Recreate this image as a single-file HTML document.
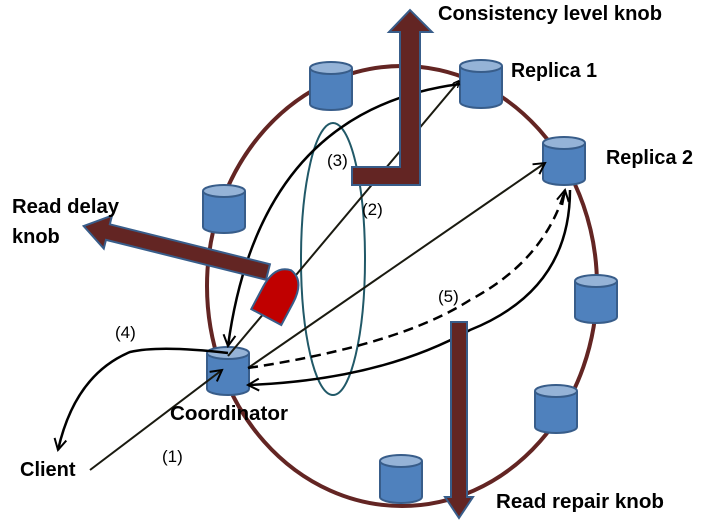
<!DOCTYPE html>
<html><head><meta charset="utf-8"><style>
html,body{margin:0;padding:0;background:#fff;}
svg{display:block;font-family:"Liberation Sans",sans-serif;}
.b{font-weight:bold;font-size:20px;fill:#000;}
.n{font-size:17px;fill:#000;}
</style></head><body>
<svg width="723" height="531" viewBox="0 0 723 531" xmlns="http://www.w3.org/2000/svg">
<defs>
<marker id="a" viewBox="0 0 10 10" refX="9" refY="5" markerWidth="7" markerHeight="7" orient="auto" markerUnits="userSpaceOnUse">
<path d="M0,0 L10,5 L0,10" fill="none" stroke="#000" stroke-width="2"/></marker>
<marker id="m" viewBox="0 0 14 14" refX="12" refY="7" markerWidth="14" markerHeight="14" orient="auto" markerUnits="userSpaceOnUse">
<path d="M1,1 L12,7 L1,13" fill="none" stroke="#000" stroke-width="2"/></marker>
<g id="cyl">
<path d="M0,6 L0,42 A21,6 0 0 0 42,42 L42,6" fill="#4f81bd" stroke="#385d8a" stroke-width="2"/>
<ellipse cx="21" cy="6" rx="21" ry="6" fill="#95b3d7" stroke="#385d8a" stroke-width="2"/>
</g>
</defs>
<ellipse cx="402" cy="286" rx="195" ry="220" fill="none" stroke="#632523" stroke-width="4"/>
<use href="#cyl" x="310" y="62"/>
<use href="#cyl" x="460" y="60"/>
<use href="#cyl" x="543" y="137"/>
<use href="#cyl" x="203" y="185"/>
<use href="#cyl" x="575" y="275"/>
<use href="#cyl" x="535" y="385"/>
<use href="#cyl" x="380" y="455"/>
<use href="#cyl" x="207" y="347"/>
<ellipse cx="333" cy="259" rx="32" ry="136" fill="none" stroke="#215968" stroke-width="2"/>
<line x1="90" y1="470" x2="222" y2="370" stroke="#1a1a10" stroke-width="2" marker-end="url(#m)"/>
<line x1="228" y1="356" x2="459" y2="81" stroke="#1a1a10" stroke-width="2" marker-end="url(#a)"/>
<line x1="248" y1="368" x2="545" y2="163" stroke="#1a1a10" stroke-width="2" marker-end="url(#m)"/>
<path d="M460,84 Q260,110 228,346" fill="none" stroke="#000" stroke-width="2.5" marker-end="url(#m)"/>
<path d="M228,353 Q160,345 130,352 Q75,375 58,450" fill="none" stroke="#000" stroke-width="2.5" marker-end="url(#m)"/>
<path d="M248,368 Q400,345 470,300 Q545,260 565,190" fill="none" stroke="#000" stroke-width="2.5" stroke-dasharray="10,6"/>
<path d="M570,190 Q570,290 470,330 Q380,380 248,385" fill="none" stroke="#000" stroke-width="2.5" marker-end="url(#m)"/>
<path d="M562,205 L565,190" stroke="#000" stroke-width="2.5" marker-end="url(#m)"/>
<path d="M400,32 L389,32 L410,10 L432,32 L420,32 L420,185 L352,185 L352,167 L400,167 Z" fill="#632523" stroke="#385d8a" stroke-width="2"/>
<g transform="translate(268,272) rotate(194)">
<path d="M0,-8 L165,-8 L165,-17 L190,0 L165,17 L165,8 L0,8 Z" fill="#632523" stroke="#385d8a" stroke-width="2"/>
</g>
<g transform="translate(278,295) rotate(28)">
<path d="M-17,25 L-17,0 Q-17,-25 0,-28 Q17,-25 17,0 L17,25 Z" fill="#c00000" stroke="#385d8a" stroke-width="2"/>
</g>
<path d="M451,322 L467,322 L467,497 L473,497 L459,518 L445,497 L451,497 Z" fill="#632523" stroke="#385d8a" stroke-width="2"/>
<text class="b" x="438" y="20" textLength="224" lengthAdjust="spacingAndGlyphs">Consistency level knob</text>
<text class="b" x="511" y="77" textLength="86" lengthAdjust="spacingAndGlyphs">Replica 1</text>
<text class="b" x="606" y="164" textLength="87" lengthAdjust="spacingAndGlyphs">Replica 2</text>
<text class="b" x="12" y="213" textLength="107" lengthAdjust="spacingAndGlyphs">Read delay</text>
<text class="b" x="12" y="243">knob</text>
<text class="b" x="170" y="420" textLength="118" lengthAdjust="spacingAndGlyphs">Coordinator</text>
<text class="b" x="20" y="476">Client</text>
<text class="b" x="496" y="508" textLength="168" lengthAdjust="spacingAndGlyphs">Read repair knob</text>
<text class="n" x="327" y="166">(3)</text>
<text class="n" x="362" y="215">(2)</text>
<text class="n" x="115" y="338">(4)</text>
<text class="n" x="438" y="302">(5)</text>
<text class="n" x="162" y="462">(1)</text>
</svg>
</body></html>
